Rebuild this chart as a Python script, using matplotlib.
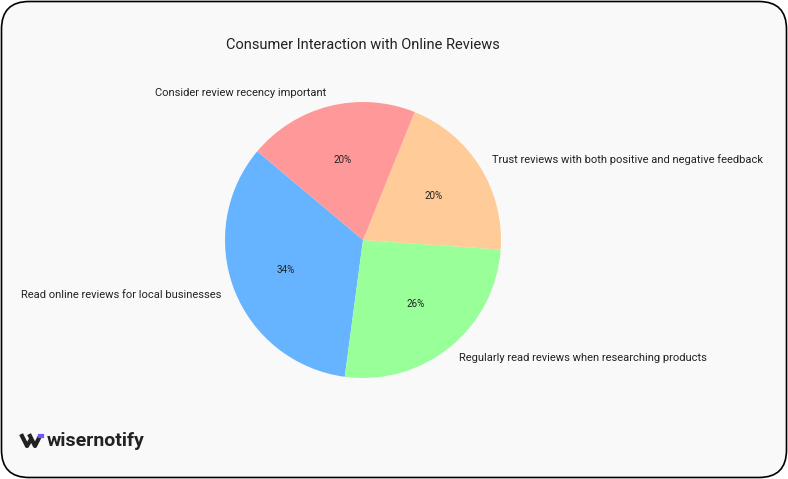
import matplotlib.pyplot as plt
from matplotlib.patches import FancyBboxPatch

# data
labels = [
    "Read online reviews for local businesses",
    "Regularly read reviews when researching products",
    "Trust reviews with both positive and negative feedback",
    "Consider review recency important",
]
shares = [34, 26, 20, 20]
colors = ["#66b3ff", "#99ff99", "#ffcc99", "#ff9999"]

plt.rcParams["font.family"] = ["Roboto", "DejaVu Sans"]

W, H = 788, 479
fig = plt.figure(figsize=(W / 100, H / 100), dpi=100)
fig.patch.set_facecolor("white")

# rounded card behind everything
card = FancyBboxPatch((1.5 / W, 1.5 / H), (W - 3) / W, (H - 3) / H,
                      boxstyle="round,pad=0,rounding_size=0.035",
                      transform=fig.transFigure, facecolor="#f9f9f9",
                      edgecolor="black", linewidth=1.2, mutation_aspect=W / H,
                      zorder=-10)
fig.patches.append(card)

cx, cy, r = 363, 240, 138
ax = fig.add_axes([(cx - r) / W, 1 - (cy + r) / H, 2 * r / W, 2 * r / H])
ax.patch.set_visible(False)
ax.pie(shares, labels=labels, colors=colors, autopct="%1.0f%%", startangle=140,
       textprops={"fontsize": 8, "color": "#222222"})
for t in ax.texts:
    if t.get_text().endswith("%"):
        t.set_fontsize(7)
ax.set_xlim(-1, 1)
ax.set_ylim(-1, 1)
ax.set_aspect("equal")

fig.text(cx / W, 1 - 45 / H, "Consumer Interaction with Online Reviews",
         ha="center", va="center", fontsize=10.5, color="#222222")

# logo
fig.text(47 / W, 1 - 441 / H, "wisernotify", ha="left", va="center",
         fontsize=14, fontweight="bold", color="#222222")
fig.add_artist(plt.Line2D([22 / W, 27 / W, 30 / W], [1 - 436 / H, 1 - 446 / H, 1 - 441 / H],
                          color="#222222", linewidth=3, transform=fig.transFigure))
fig.add_artist(plt.Line2D([30 / W, 35 / W, 39 / W], [1 - 436 / H, 1 - 446 / H, 1 - 438 / H],
                          color="#222222", linewidth=3, transform=fig.transFigure))
fig.add_artist(plt.Line2D([40 / W, 42 / W], [1 - 436 / H, 1 - 436 / H],
                          color="#6b5bff", linewidth=3, transform=fig.transFigure))

fig.savefig("out.png", dpi=100)
